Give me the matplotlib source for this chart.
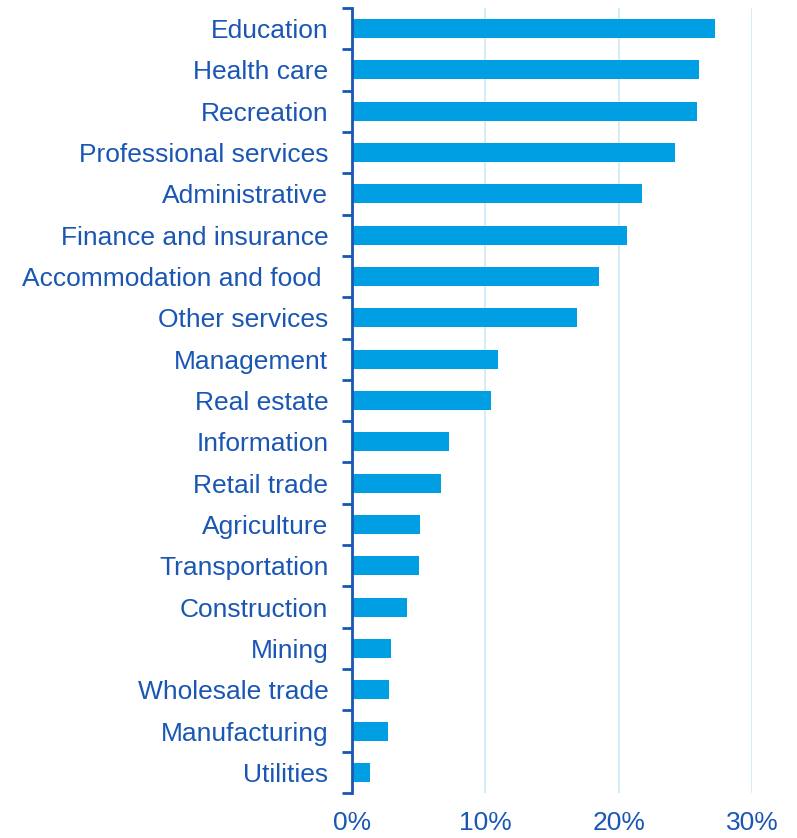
import matplotlib.pyplot as plt
from matplotlib.ticker import FuncFormatter

plt.rcParams['font.family'] = ['Liberation Sans', 'DejaVu Sans']

industries = ["Education", "Health care", "Recreation", "Professional services",
              "Administrative", "Finance and insurance", "Accommodation and food ",
              "Other services", "Management", "Real estate", "Information",
              "Retail trade", "Agriculture", "Transportation", "Construction",
              "Mining", "Wholesale trade", "Manufacturing", "Utilities"]
share = [27.2, 26.0, 25.85, 24.2, 21.75, 20.6, 18.5, 16.9, 10.95, 10.45, 7.3,
         6.7, 5.1, 5.0, 4.1, 2.9, 2.75, 2.7, 1.35]

BAR = "#009fe3"
TEXT = "#1a56b4"
GRID = "#cdeaf7"

fig = plt.figure(figsize=(7.97, 8.38), dpi=100)
ax = fig.add_axes([352 / 797, 45 / 838, 400 / 797, 785 / 838])

ypos = list(range(len(industries)))
ax.barh(ypos, share, height=0.46, color=BAR, zorder=3)
ax.set_ylim(len(industries) - 0.5, -0.5)
ax.set_xlim(0, 30)

# category labels sit between tick marks drawn at the boundaries
ax.set_yticks(ypos)
ax.set_yticklabels(industries, fontsize=19, color=TEXT)
ax.tick_params(axis='y', which='major', length=0, pad=17)
ax.set_yticks([i - 0.5 for i in range(len(industries) + 1)], minor=True)
ax.tick_params(axis='y', which='minor', length=7, width=2, color=TEXT)

ax.set_xticks([0, 10, 20, 30])
ax.xaxis.set_major_formatter(FuncFormatter(lambda v, p: f"{v:.0f}%"))
ax.tick_params(axis='x', length=0, labelsize=19, labelcolor=TEXT, pad=13)
ax.grid(axis='x', color=GRID, linewidth=1.2, zorder=0)

for side in ["top", "right", "bottom"]:
    ax.spines[side].set_visible(False)
ax.spines["left"].set_color(TEXT)
ax.spines["left"].set_linewidth(2)
ax.spines["left"].set_zorder(4)

fig.savefig("out.png", dpi=100)
